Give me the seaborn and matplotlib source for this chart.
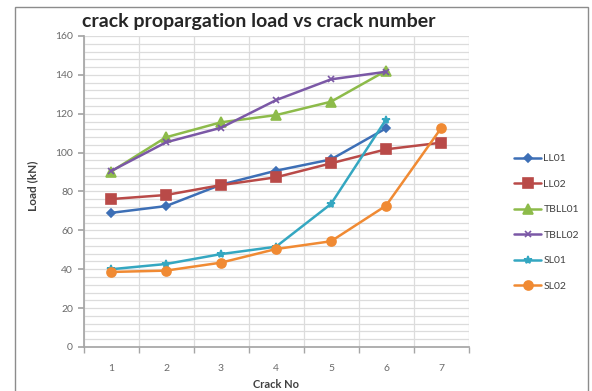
import matplotlib
matplotlib.use("Agg")
import matplotlib.pyplot as plt
import seaborn as sns
import pandas as pd
import numpy as np
from matplotlib.patches import Rectangle

crack_no = [1, 2, 3, 4, 5, 6, 7]
LL01 = [69, 72.5, 83.5, 90.7, 96.5, 112.5, None]
LL02 = [76.1, 78.2, 83.3, 87.3, 94.5, 101.7, 105.1]
TBLL01 = [90.2, 107.9, 115.6, 119.3, 126.2, 142.1, None]
TBLL02 = [90.5, 105.3, 112.8, 127.0, 137.7, 141.6, None]
SL01 = [40.0, 42.7, 47.8, 51.6, 73.6, 117.0, None]
SL02 = [38.6, 39.3, 43.4, 50.4, 54.4, 72.7, 112.5]

series = {"LL01": LL01, "LL02": LL02, "TBLL01": TBLL01,
          "TBLL02": TBLL02, "SL01": SL01, "SL02": SL02}
colors = {"LL01": "#3d6fb6", "LL02": "#b94a48", "TBLL01": "#8dbb4a",
          "TBLL02": "#7b58a6", "SL01": "#34a7c1", "SL02": "#f08a33"}
markers = {"LL01": "D", "LL02": "s", "TBLL01": "^",
           "TBLL02": "x", "SL01": "*", "SL02": "o"}
msizes = {"LL01": 4.5, "LL02": 6.5, "TBLL01": 6.5, "TBLL02": 5, "SL01": 6, "SL02": 6.5}

rows = []
for name, vals in series.items():
    for x, v in zip(crack_no, vals):
        if v is not None:
            rows.append({"Crack No": x, "Load": v, "Series": name})
df = pd.DataFrame(rows)

sns.set_theme(style="white")
plt.rcParams['font.family'] = ['Lato', 'DejaVu Sans']

fig = plt.figure(figsize=(5.92, 3.91), dpi=100)
ax = fig.add_axes([83.5/592, 1-347/391, (468.5-83.5)/592, (347-36)/391])

# outer chart border
fig.patches.append(Rectangle((15/592, -0.05), (588-15)/592, 1.05-7/391,
                             transform=fig.transFigure, fill=False,
                             edgecolor="#8c8c8c", linewidth=1.0))

for name in series:
    sub = df[df["Series"] == name]
    sns.lineplot(data=sub, x="Crack No", y="Load", ax=ax, color=colors[name],
                 marker=markers[name], markersize=msizes[name],
                 markeredgecolor=colors[name], markeredgewidth=1.2,
                 linewidth=1.8, label=name)

ax.set_xlim(0.5, 7.5)
ax.set_ylim(0, 160)
ax.set_xticks(crack_no)
ax.set_xticks(np.arange(0.5, 7.6, 1), minor=True)
ax.set_yticks(np.arange(0, 161, 20))
ax.set_yticks(np.arange(0, 161, 4), minor=True)
ax.grid(which="minor", color="#dcdcdc", linewidth=0.9)
ax.grid(which="major", axis="y", color="#dcdcdc", linewidth=0.9)
ax.grid(which="major", axis="x", visible=False)
ax.set_axisbelow(True)

for s in ["top", "right"]:
    ax.spines[s].set_visible(False)
ax.spines["left"].set_color("#a6a6a6")
ax.spines["bottom"].set_color("#a6a6a6")

ax.tick_params(axis="x", which="major", length=0, pad=12, labelsize=7.5, colors="#6a6a6a")
ax.tick_params(axis="x", which="minor", length=4, color="#a6a6a6", direction="out", bottom=True)
ax.tick_params(axis="y", which="major", length=4, color="#a6a6a6", labelsize=7.5, colors="#6a6a6a", left=True)
ax.tick_params(axis="y", which="minor", length=0)

ax.set_xlabel("Crack No", fontsize=8, fontweight="bold", color="#404040")
ax.set_ylabel("Load (kN)", fontsize=8.5, fontweight="bold", color="#404040")
ax.xaxis.set_label_coords(0.5, (347-384.5)/311, transform=ax.transAxes)
ax.xaxis.label.set_va("center")
ax.yaxis.set_label_coords((33-83.5)/385, (347-186)/311, transform=ax.transAxes)
ax.yaxis.label.set_va("center")

fig.text(82/592, 1-21/391, "crack propargation load vs crack number",
         fontsize=14.0, fontweight="bold", color="#262626", va="center", ha="left")

leg = ax.legend(loc="upper left", bbox_to_anchor=(510/592, 1-150/391),
                bbox_transform=fig.transFigure, frameon=False, fontsize=7.5,
                labelspacing=1.55, handlelength=2.6, handletextpad=0.2,
                borderaxespad=0)
for t in leg.get_texts():
    t.set_color("#404040")

fig.savefig("out.png", dpi=100)
